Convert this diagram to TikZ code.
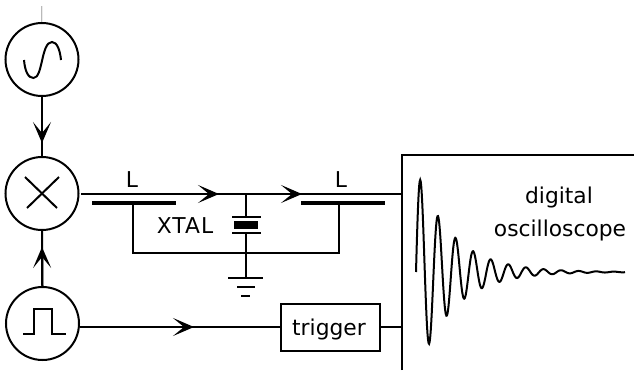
\documentclass[tikz,border=0pt]{standalone}
\usepackage{fontspec}
\setmainfont{DejaVu Sans}
\usetikzlibrary{arrows.meta}
\tikzset{
  wire/.style={line width=2pt},
  tip/.style={line width=2pt,-{Stealth[length=21pt,width=18pt,inset=11pt]}},
  bar/.style={line width=4.5pt},
  source/.style={circle,draw,line width=2pt,minimum size=73pt,inner sep=0pt},
  label/.style={font=\fontsize{21.8}{24}\selectfont,anchor=base,inner sep=0pt}
}
\begin{document}
\begin{tikzpicture}[x=1pt,y=-1pt]
   \useasboundingbox (0,0) rectangle (634,370);

   \node[source] at (42,59.5)  (sine) {};
   \node[source] at (42,193.5) (mixer) {};
   \node[source] at (42.5,323.5) (pulse) {};
   \node[draw,line width=2pt,minimum width=99pt,minimum height=47pt,inner sep=0pt] at (330.5,327) (trigger) {};

   \coordinate (sinetop) at (42,6);
   \coordinate (tipA) at (42,143);
   \coordinate (tipB) at (42,247);
   \coordinate (mixout) at (81,194);
   \coordinate (tipC) at (219,194);
   \coordinate (tipD) at (302,194);
   \coordinate (scopeA) at (402,194);
   \coordinate (pulseout) at (80,327);
   \coordinate (tipE) at (194,327);
   \coordinate (scopeB) at (402,327);
   \coordinate (xtaltop) at (246,194);
   \coordinate (plateA) at (246,217);
   \coordinate (plateB) at (246,233);
   \coordinate (earth) at (246,278);
   \coordinate (loopL) at (133,203);
   \coordinate (loopR) at (339,203);

   % source and mixer symbols
   \draw[line width=1pt,draw=gray!55,double=gray!15,double distance=.8pt] (sinetop) -- (sine);
   \draw[wire] (24,60) .. controls (25,71) and (28,78) .. (33.5,78) .. controls (43,78) and (41,42) .. (52,42) .. controls (57,42) and (60,50) .. (61,60);
   \draw[wire] (25,177) -- (57,208);
   \draw[wire] (59,177) -- (27,208);
   \draw[wire] (23,334) -- (33.5,334) -- (33.5,309) -- (52,309) -- (52,334) -- (66,334);

   % wires, then the arrows over them
   \draw[wire] (sine) -- (mixer);
   \draw[wire] (pulse) -- (mixer);
   \draw[wire] (mixout) -- (scopeA);
   \draw[wire] (pulseout) -- (trigger.west);
   \draw[wire] (trigger.east) -- (scopeB);
   \draw[tip] (sine) -- (tipA);
   \draw[tip] (pulse) -- (tipB);
   \draw[tip] (mixout) -- (tipC);
   \draw[tip] (mixout) -- (tipD);
   \draw[tip] (pulseout) -- (tipE);

   % L bars and loop
   \draw[bar] (92,203) -- (176,203);
   \draw[bar] (301,203) -- (385,203);
   \draw[wire] (loopL) |- (246,253) -| (loopR);

   % crystal and earth
   \draw[wire] (xtaltop) -- (plateA);
   \draw[wire] (plateB) -- (earth);
   \draw[wire] (232,217) -- (261,217);
   \draw[wire] (232,233) -- (261,233);
   \fill (234,221) rectangle (258,229);
   \draw[wire] (228,278) -- (263,278);
   \draw[wire] (237,287) -- (255,287);
   \draw[wire] (241,296) -- (250,296);

   % scope
   \draw[wire] (402,370) -- (402,155) -- (634,155);
   \draw[wire] plot[domain=0:209,samples=400] ({416+\x},{272-104*exp(-0.0282*\x)*sin(20.4545*\x)});

   \node[label] at (132,187) (Lleft) {L};
   \node[label] at (341,187) (Lright) {L};
   \node[label] at (185,233) (xtal) {\addfontfeature{LetterSpace=5}XTAL};
   \node[label] at (329,335) (trig) {trigger};
   \node[label] at (559,203) (digital) {digital};
   \node[label] at (560,236) (osc) {oscilloscope};
\end{tikzpicture}
\end{document}
